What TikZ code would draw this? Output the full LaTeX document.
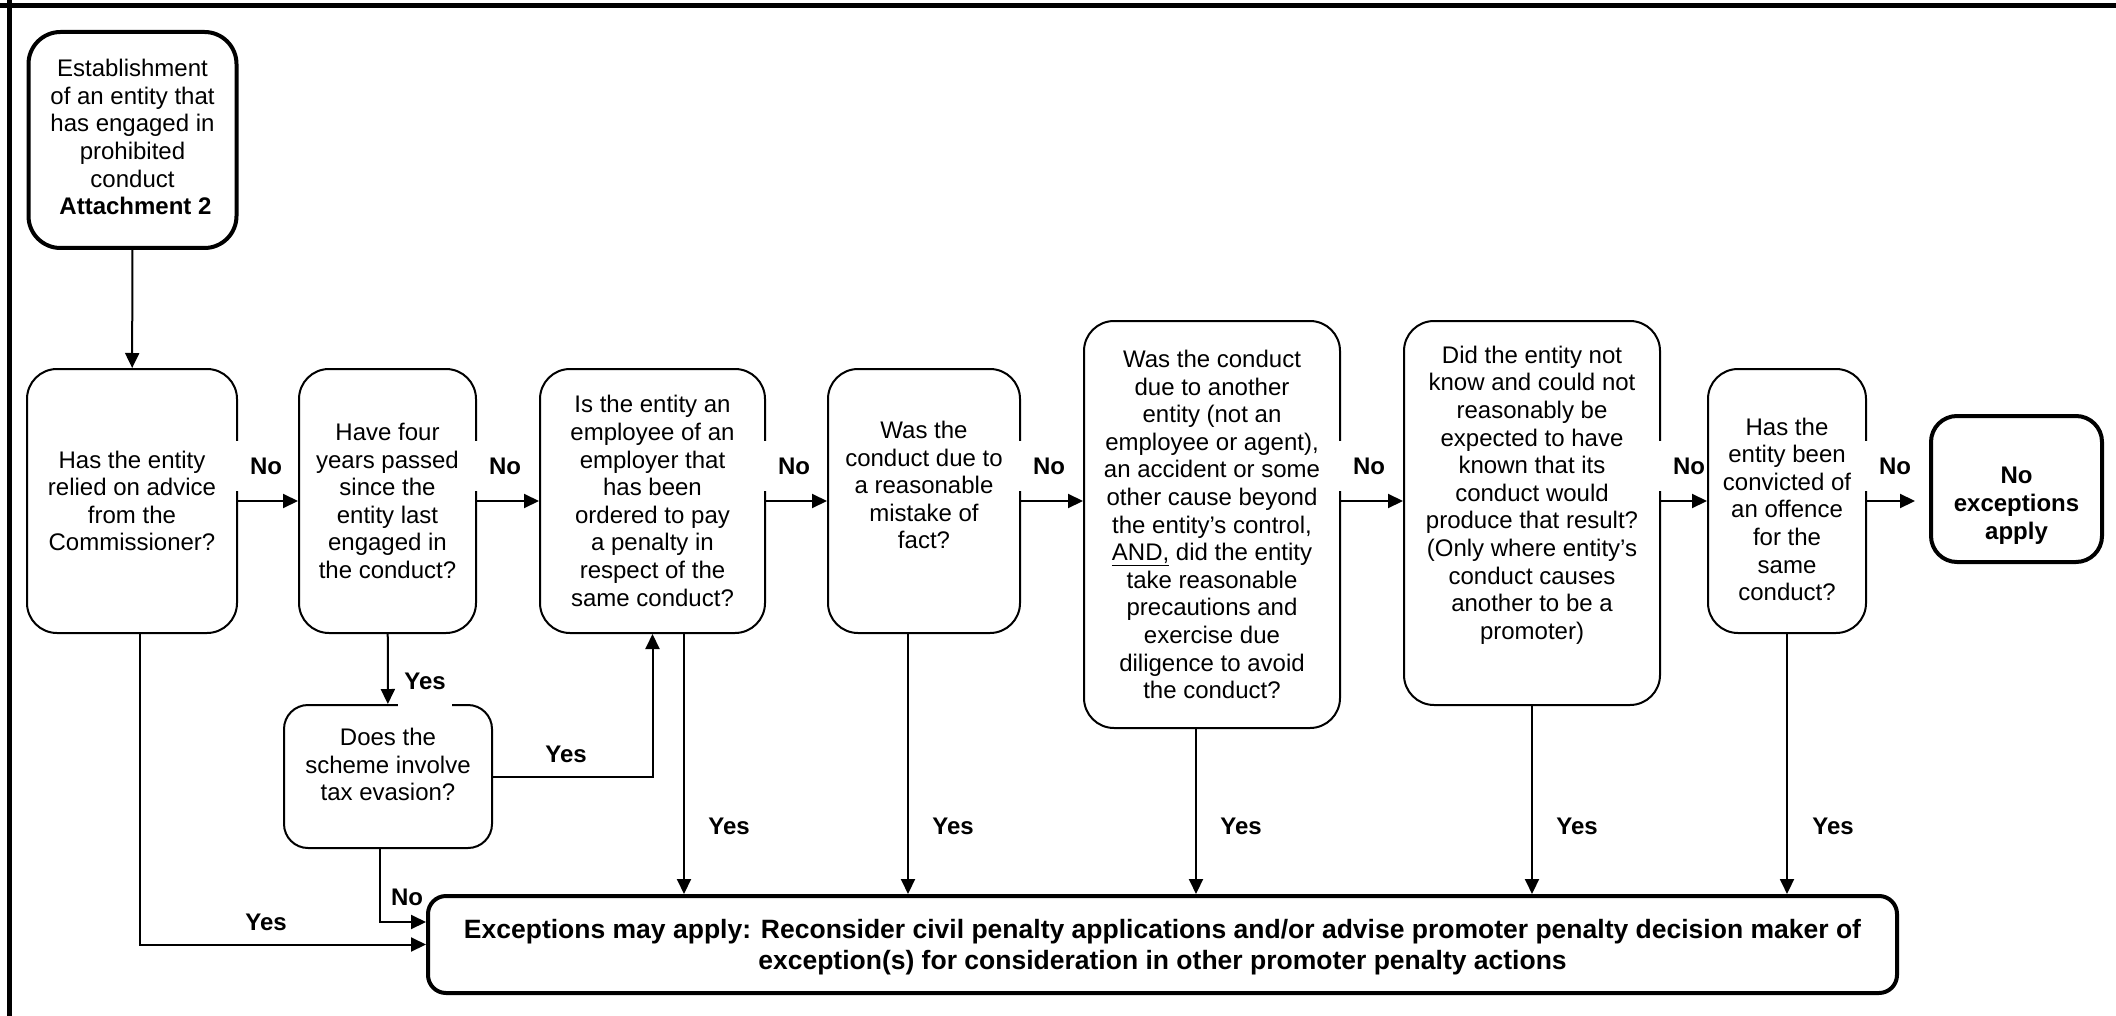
\documentclass[tikz,border=0pt]{standalone}
\usepackage{fontspec}
\setmainfont{Liberation Sans}
\usetikzlibrary{arrows.meta}
\newcommand{\boxfont}{\fontsize{24pt}{27.6pt}\selectfont}
\newcommand{\mayfont}{\fontsize{26.5pt}{31pt}\selectfont\bfseries}
\tikzset{
	question/.style={draw, rectangle, rounded corners=30pt, align=center,
		inner sep=0pt, font=\boxfont, line width=2pt},
	terminal/.style={question, line width=4pt}, % the heavy outlined boxes
	nolabel/.style={anchor=west, fill=white, inner sep=0pt, text width=47pt,
		align=right, minimum height=50pt, font=\boxfont\bfseries},
	yeslabel/.style={inner sep=0pt, font=\boxfont\bfseries},
	frame/.style={-, line width=5pt},
}
\begin{document}
\begin{tikzpicture}[x=1pt, y=-1pt, ->, >={Triangle[length=15pt,width=14pt]}, line width=2pt]
\useasboundingbox (0,0) rectangle (2116,1016);
\draw[frame] (0,5.5) -- (2116,5.5);
\draw[frame] (9.5,0) -- (9.5,1016);

\node[terminal, rounded corners=32pt, minimum width=208pt, minimum height=216pt] (start) at (132.5,140)
	{Establishment\\of an entity that\\has engaged in\\prohibited\\conduct\\\hspace*{6pt}\textbf{Attachment 2}\rule[-6pt]{0pt}{6pt}};
\node[question, minimum width=210pt, minimum height=264pt] (q1) at (132,501)
	{Has the entity\\relied on advice\\from the\\Commissioner?};
\node[question, minimum width=177pt, minimum height=264pt] (q2) at (387.5,501)
	{Have four\\years passed\\since the\\entity last\\engaged in\\the conduct?};
\node[question, minimum width=225pt, minimum height=264pt] (q3) at (652.5,501)
	{Is the entity an\\employee of an\\employer that\\has been\\ordered to pay\\a penalty in\\respect of the\\same conduct?};
\node[question, minimum width=192pt, minimum height=264pt] (q4) at (924,501)
	{Was the\\conduct due to\\a reasonable\\mistake of\\fact?\rule[-32pt]{0pt}{32pt}};
\node[question, minimum width=256pt, minimum height=407pt] (q5) at (1212,524.5)
	{Was the conduct\\due to another\\entity (not an\\employee or agent),\\an accident or some\\other cause beyond\\the entity’s control,\\\underline{AND,} did the entity\\take reasonable\\precautions and\\exercise due\\diligence to avoid\\the conduct?};
\node[question, minimum width=256pt, minimum height=384pt] (q6) at (1532,513)
	{Did the entity not\\know and could not\\reasonably be\\expected to have\\known that its\\conduct would\\produce that result?\\(Only where entity’s\\conduct causes\\another to be a\\promoter)\rule[-41pt]{0pt}{41pt}};
\node[question, minimum width=158pt, minimum height=264pt] (q7) at (1787,501)
	{\rule{0pt}{34pt}Has the\\entity been\\convicted of\\an offence\\for the\\same\\conduct?};
\node[terminal, rounded corners=26pt, minimum width=171pt, minimum height=146pt, font=\boxfont\bfseries] (none) at (2016.5,489)
	{\rule{0pt}{50pt}No\\exceptions\\apply};
\node[question, rounded corners=24pt, minimum width=208pt, minimum height=143pt] (tax) at (388,776.5)
	{Does the\\scheme involve\\tax evasion?\rule[-24pt]{0pt}{24pt}};
\node[terminal, rounded corners=18pt, minimum width=1469pt, minimum height=97pt, font=\mayfont] (may) at (1162.5,944.5)
	{\rule{0pt}{24pt}Exceptions may apply: Reconsider civil penalty applications and/or advise promoter penalty decision maker of\\exception(s) for consideration in other promoter penalty actions};

\coordinate (stop) at (1915,501);

% the No chain
\draw (start) -- (q1);
\draw (q1) -- (q2);
\draw (q2) -- (q3);
\draw (q3) -- (q4);
\draw (q4) -- (q4 -| q5.west);
\draw (q5.east |- q4) -- (q4 -| q6.west);
\draw (q6.east |- q7) -- (q7);
\draw (q7) -- (stop);

% the Yes and side branches
\draw ([xshift=8pt]q1.south) |- (may.west);
\draw (q2) -- (tax);
\draw (tax.east) -| (q3.south);
\draw ([xshift=-8pt]tax.south) |- ([yshift=22.5pt]may.west);
\draw ([xshift=31.5pt]q3.south) -- ([xshift=31.5pt]q3.south |- may.north);
\draw ([xshift=-16pt]q4.south) -- ([xshift=-16pt]q4.south |- may.north);
\draw ([xshift=-16pt]q5.south) -- ([xshift=-16pt]q5.south |- may.north);
\draw (q6.south) -- (q6.south |- may.north);
\draw (q7.south) -- (q7.south |- may.north);

\node[nolabel] (no1) at (234,466) {No};
\node[nolabel] (no2) at (473,466) {No};
\node[nolabel] (no3) at (762,466) {No};
\node[nolabel] (no4) at (1017,466) {No};
\node[nolabel] (no5) at (1337,466) {No};
\node[nolabel] (no6) at (1657,466) {No};
\node[nolabel] (no7) at (1863,466) {No};
\node[yeslabel] (notax) at (407,897) {No};

\node[yeslabel] (yes1) at (266,922) {Yes};
\node[yeslabel, fill=white, minimum height=54pt, inner xsep=6pt] (yes2) at (425,681) {Yes};
\node[yeslabel] (yes3) at (566,754) {Yes};
\node[yeslabel] (yes4) at (729,826) {Yes};
\node[yeslabel] (yes5) at (953,826) {Yes};
\node[yeslabel] (yes6) at (1241,826) {Yes};
\node[yeslabel] (yes7) at (1577,826) {Yes};
\node[yeslabel] (yes8) at (1833,826) {Yes};
\end{tikzpicture}
\end{document}
